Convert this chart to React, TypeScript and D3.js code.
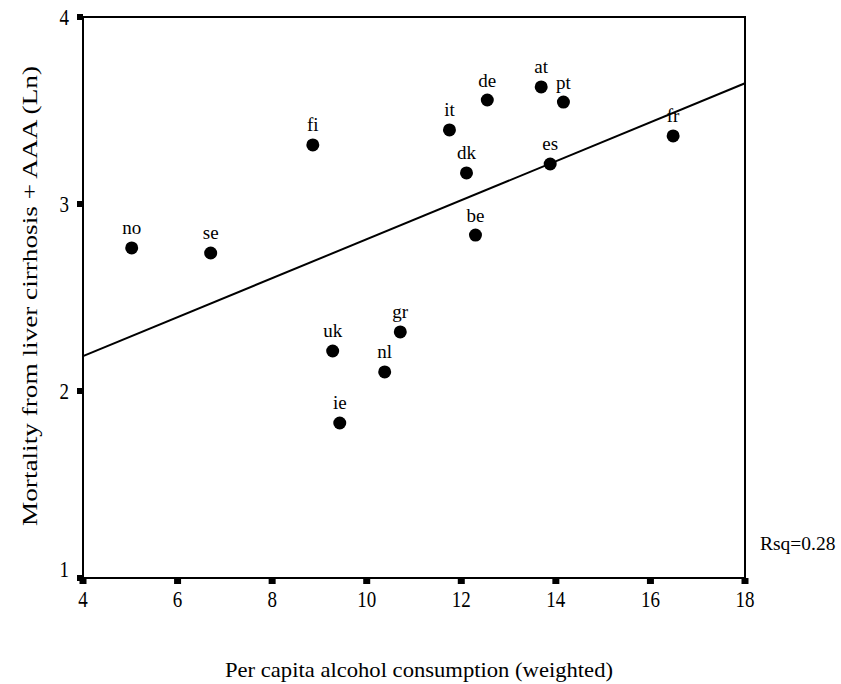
import React from "react";
import * as d3 from "d3";

const countries = ["no", "se", "fi", "uk", "ie", "nl", "gr", "it", "dk", "be", "de", "at", "pt", "es", "fr"];
const consumption = [5.03, 6.7, 8.86, 9.28, 9.43, 10.38, 10.71, 11.75, 12.11, 12.3, 12.55, 13.69, 14.16, 13.88, 16.48];
const mortality = [2.765, 2.738, 3.316, 2.214, 1.829, 2.102, 2.316, 3.396, 3.166, 2.834, 3.556, 3.626, 3.545, 3.214, 3.364];
const xTicks = [4, 6, 8, 10, 12, 14, 16, 18];
const yTicks = [1, 2, 3, 4];
const xTitle = "Per capita alcohol consumption (weighted)";
const yTitle = "Mortality from liver cirrhosis + AAA (Ln)";
const rsqLabel = "Rsq=0.28";

const W = 841;
const H = 684;
const FONT = "'Liberation Serif', 'Times New Roman', 'DejaVu Serif', serif";

export default function App() {
  const x = d3.scaleLinear().domain([4, 18]).range([83, 745]);
  const y = d3.scaleLinear().domain([1, 4]).range([578, 17]);

  const mx = d3.mean(consumption) as number;
  const my = d3.mean(mortality) as number;
  let sxy = 0;
  let sxx = 0;
  consumption.forEach((v, i) => {
    sxy += (v - mx) * (mortality[i] - my);
    sxx += (v - mx) * (v - mx);
  });
  const slope = sxy / sxx;
  const intercept = my - slope * mx;
  const line = d3
    .line<number>()
    .x((d) => x(d))
    .y((d) => y(intercept + slope * d));

  const [x0, x1] = x.range();
  const [y0, y1] = y.range();
  const ts = { fontFamily: FONT };

  return (
    <svg
      width={W}
      height={H}
      style={{ position: "absolute", left: 0, top: 0, background: "#fff", fontFamily: FONT }}
    >
      <rect x={0} y={0} width={W} height={H} fill="#fff" />
      <rect x={x0} y={y1} width={x1 - x0} height={y0 - y1} fill="none" stroke="#000" strokeWidth={2} />
      {xTicks.map((t) => (
        <g key={"xt" + t}>
          <rect x={x(t) - 3.5} y={y0} width={7} height={6} fill="#000" />
          <g transform={`translate(${x(t)}, 607) scale(1, 1.2)`}>
            <text x={0} y={0} textAnchor="middle" fontSize={19} style={ts}>
              {t}
            </text>
          </g>
        </g>
      ))}
      {yTicks.map((t) => (
        <g key={"yt" + t}>
          <rect x={x0 - 6} y={y(t) - 3} width={6} height={6} fill="#000" />
          <g transform={`translate(69, ${y(t) + (t === 1 ? -1 : 8)}) scale(1, 1.2)`}>
            <text x={0} y={0} textAnchor="end" fontSize={19} style={ts}>
              {t}
            </text>
          </g>
        </g>
      ))}
      <path d={line([4, 18]) as string} fill="none" stroke="#000" strokeWidth={2} />
      {countries.map((c, i) => (
        <g key={c}>
          <circle cx={x(consumption[i])} cy={y(mortality[i])} r={6.5} fill="#000" />
          <text x={x(consumption[i])} y={y(mortality[i]) - 13.5} textAnchor="middle" fontSize={19} style={ts}>
            {c}
          </text>
        </g>
      ))}
      <text x={760} y={550} fontSize={19.5} style={ts}>
        {rsqLabel}
      </text>
      <text
        x={419}
        y={677}
        textAnchor="middle"
        fontSize={21}
        textLength={388}
        lengthAdjust="spacingAndGlyphs"
        style={ts}
      >
        {xTitle}
      </text>
      <text
        transform={`translate(37, 296) rotate(-90)`}
        textAnchor="middle"
        fontSize={22}
        textLength={460}
        lengthAdjust="spacingAndGlyphs"
        style={ts}
      >
        {yTitle}
      </text>
    </svg>
  );
}
